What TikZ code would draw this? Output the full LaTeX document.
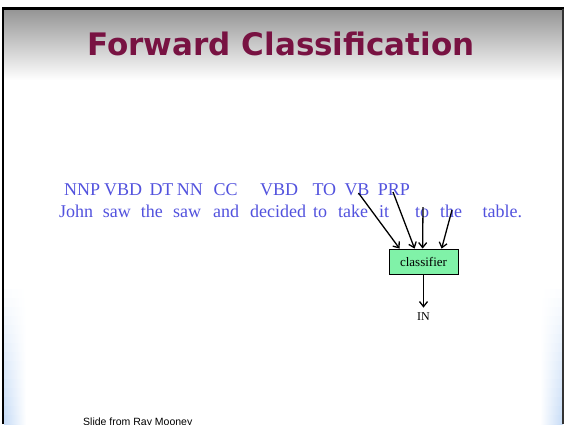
\documentclass[tikz,border=0pt]{standalone}
\usepackage{fontspec}
\setmainfont{Liberation Serif}
\newfontfamily\titlefont{DejaVu Sans}
\newfontfamily\footfont{Liberation Sans}
\usetikzlibrary{arrows.meta,calc}
\definecolor{tagblue}{RGB}{82,82,222}
\definecolor{titlered}{RGB}{120,18,66}
\definecolor{boxgreen}{RGB}{128,242,168}
\definecolor{hdrgray}{RGB}{150,150,150}
\definecolor{glowblue}{RGB}{196,218,246}
\tikzset{
  wrd/.style={anchor=base west, inner sep=0pt, text=tagblue, font=\fontsize{18}{20}\selectfont},
  arr/.style={line width=1.3pt, -{Straight Barb[length=5pt,width=8pt,line width=1.3pt]}},
  clsbox/.style={draw=black, line width=0.8pt, fill=boxgreen, minimum width=69pt, minimum height=25pt, inner sep=0pt, font=\fontsize{13}{15}\selectfont},
}
\begin{document}
\begin{tikzpicture}[x=1pt,y=-1pt]
\useasboundingbox (0,0) rectangle (565,424);
\clip (0,0) rectangle (565,424);
\fill[white] (0,0) rectangle (565,424);
% header gradient
\shade[top color=hdrgray, bottom color=white] (3,10) rectangle (563,80);
% side glows, growing towards the bottom
\foreach \i [evaluate=\i as \k using \i*100/16] in {0,...,16} {
  \shade[left color=glowblue!\k!white, right color=white] (4,{280+\i*9}) rectangle (26,{290+\i*9});
  \shade[right color=glowblue!\k!white, left color=white] (540,{280+\i*9}) rectangle (562.5,{290+\i*9});
}
% frame
\draw[line width=2.6pt, black] (2.8,424) -- (2.8,8.7) -- (563.5,8.7);
\draw[line width=1.2pt, black!80] (563,8.7) -- (563,424);
% title
\node[anchor=base, inner sep=0pt, text=titlered, font=\titlefont\bfseries\fontsize{31}{36}\selectfont] (title) at (281,55) {Forward Classification};
% tags
\node[wrd] (t1) at (64,195.7) {NNP};
\node[wrd] (t2) at (104,195.7) {VBD};
\node[wrd] (t3) at (149.3,195.7) {DT};
\node[wrd] (t4) at (176.7,195.7) {NN};
\node[wrd] (t5) at (213.3,195.7) {CC};
\node[wrd] (t6) at (260,195.7) {VBD};
\node[wrd] (t7) at (312.3,195.7) {TO};
\node[wrd] (t8) at (344.3,195.7) {VB};
\node[wrd] (t9) at (377.7,195.7) {PRP};
% words
\node[wrd] (w1) at (59,217.7) {John};
\node[wrd] (w2) at (102.7,217.7) {saw};
\node[wrd] (w3) at (140.7,217.7) {the};
\node[wrd] (w4) at (173,217.7) {saw};
\node[wrd] (w5) at (213,217.7) {and};
\node[wrd] (w6) at (250,217.7) {decided};
\node[wrd] (w7) at (313,217.7) {to};
\node[wrd] (w8) at (338,217.7) {take};
\node[wrd] (w9) at (379,217.7) {it};
\node[wrd] (w10) at (415,217.7) {to};
\node[wrd] (w11) at (440,217.7) {the};
\node[wrd] (w12) at (482.5,217.7) {table.};
% classifier
\node[clsbox] (cls) at (423.5,261.5) {classifier};
\node[inner sep=0pt, font=\fontsize{12}{14}\selectfont] (out) at (423.5,316.7) {IN};
% arrow start points
\coordinate (s1) at (358.5,193);
\coordinate (s2) at (393,192);
\coordinate (s3) at (423,207);
\coordinate (s4) at (452,210);
\draw[arr] (s1) -- ($(cls.north west)+(11,0)$);
\draw[arr] (s2) -- ($(cls.north west)+(26,0)$);
\draw[arr] (s3) -- ($(cls.north west)+(34,0)$);
\draw[arr] (s4) -- ($(cls.north west)+(53,0)$);
\draw[arr] (cls.south) -- ($(out.north)+(0,-5)$);
% footer
\node[anchor=base west, inner sep=0pt, font=\footfont\fontsize{10.5}{12}\selectfont] (foot) at (83,425) {Slide from Ray Mooney};
\end{tikzpicture}
\end{document}
